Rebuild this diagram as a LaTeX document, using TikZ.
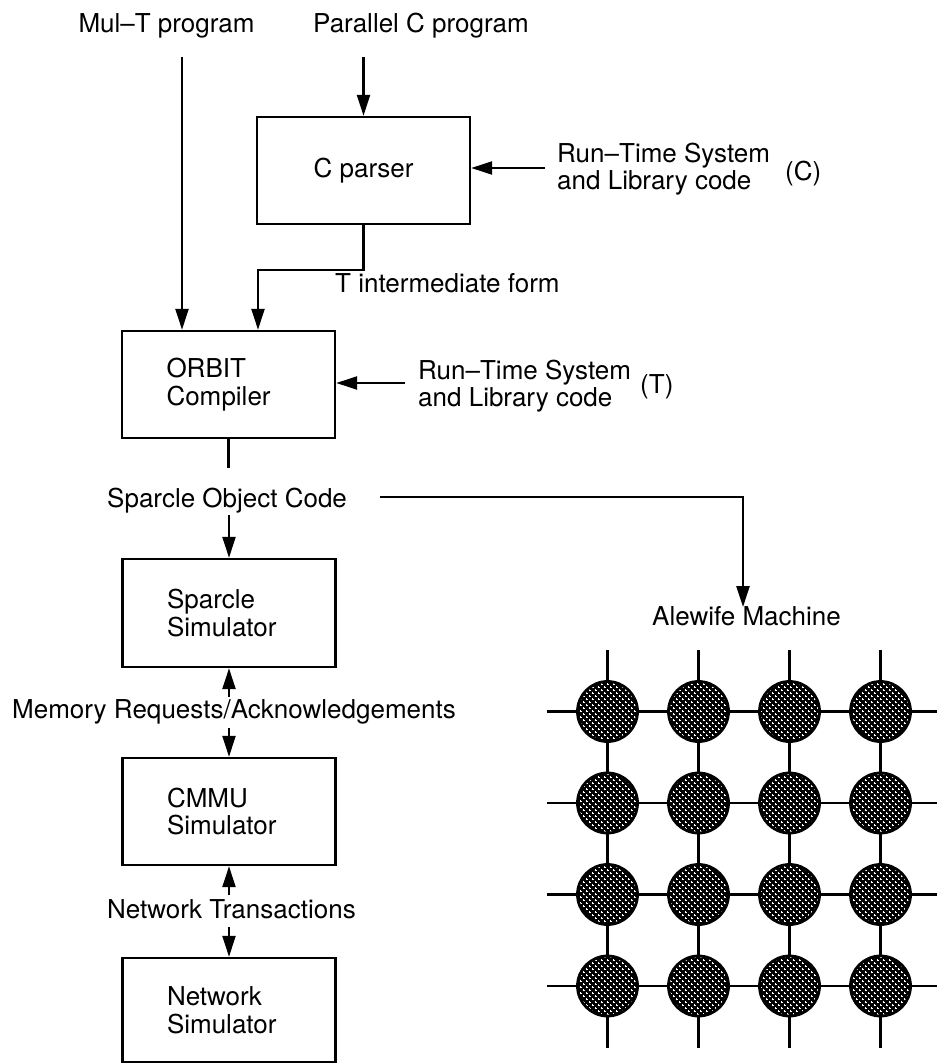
\documentclass[tikz,border=0pt]{standalone}
\usepackage{fontspec}
\setmainfont{TeX Gyre Heros}
\usetikzlibrary{arrows.meta,patterns}
\pgfdeclarepatternformonly{plusgrid}{\pgfqpoint{-1pt}{-1pt}}{\pgfqpoint{7pt}{7pt}}{\pgfqpoint{6pt}{6pt}}{%
  \pgfsetlinewidth{0.6pt}%
  \pgfpathmoveto{\pgfqpoint{0.5pt}{1.5pt}}\pgfpathlineto{\pgfqpoint{2.5pt}{1.5pt}}%
  \pgfpathmoveto{\pgfqpoint{1.5pt}{0.5pt}}\pgfpathlineto{\pgfqpoint{1.5pt}{2.5pt}}%
  \pgfpathmoveto{\pgfqpoint{3.5pt}{4.5pt}}\pgfpathlineto{\pgfqpoint{5.5pt}{4.5pt}}%
  \pgfpathmoveto{\pgfqpoint{4.5pt}{3.5pt}}\pgfpathlineto{\pgfqpoint{4.5pt}{5.5pt}}%
  \pgfusepath{stroke}}
\begin{document}
\begin{tikzpicture}[x=1pt,y=-1pt,
  every node/.style={font=\fontsize{26pt}{27.5pt}\selectfont, inner sep=0pt},
  lbl/.style={anchor=base west},
  box/.style={draw, line width=2.4pt, minimum width=213pt, minimum height=107pt},
  txtbox/.style={box, text width=124pt, inner xsep=44.5pt, align=left},
  arr/.style={line width=2.4pt, -{Triangle[length=21pt,width=13pt]}},
  plain/.style={line width=2.4pt},
  gline/.style={line width=2.6pt},
  cnode/.style={circle, draw, line width=2.8pt, minimum size=60pt, inner sep=0pt,
    preaction={fill=black}, pattern=plusgrid, pattern color=white}]
\useasboundingbox (0,0) rectangle (937,1064);

% top labels
\node[anchor=base] (mult) at (166.5,33) {Mul–T program};
\node[lbl] (parc) at (313,33) {Parallel C program};

% C parser
\node[box] (cparser) at (363.5,170.5) {C parser};
\coordinate (pc) at (363.5,57);
\draw[arr] (pc) -- (cparser.north);

\node[lbl] (rtc1) at (557,163) {Run–Time System};
\node[lbl] (rtc2) at (557,190) {and Library code};
\node[lbl] (rtcc) at (785,181) {(C)};
\coordinate (rc) at (545,168);
\draw[arr] (rc) -- (rc -| cparser.east);

% ORBIT
\node[txtbox, minimum height=107pt] (orbit) at (228.5,384.5) {ORBIT\\Compiler};
\coordinate (mt) at (182,57);
\draw[arr] (mt) -- (mt |- orbit.north);
\coordinate (tf) at (258,270);
\draw[arr] (cparser.south) -- (cparser.south |- tf) -- (tf) -- (tf |- orbit.north);
\node[lbl] (tform) at (335,293) {T intermediate form};

\node[lbl] (rtt1) at (418,379) {Run–Time System};
\node[lbl] (rtt2) at (418,406) {and Library code};
\node[lbl] (rttt) at (640,393) {(T)};
\coordinate (rt) at (405,383);
\draw[arr] (rt) -- (rt -| orbit.east);

% Sparcle object code
\node[lbl] (soc) at (107,507) {Sparcle Object Code};
\coordinate (o1) at (228.5,468);
\draw[plain] (orbit.south) -- (o1);

\node[txtbox, minimum height=108pt] (sparcle) at (229,613) {Sparcle\\Simulator};
\coordinate (o2) at (229,515);
\draw[arr] (o2) -- (sparcle.north);

\node[lbl] (alewife) at (652,625) {Alewife Machine};
\coordinate (h1) at (380,497);
\coordinate (h2) at (743,497);
\coordinate (h3) at (743,607);
\draw[arr] (h1) -- (h2) -- (h3);

% Memory requests
\node[lbl] (mem) at (12,718) {Memory Requests/Acknowledgements};
\node[txtbox, minimum height=107pt] (cmmu) at (229,811.5) {CMMU\\Simulator};
\coordinate (m1) at (229,697);
\coordinate (m2) at (229,728);
\draw[arr] (m1) -- (sparcle.south);
\draw[arr] (m2) -- (cmmu.north);

% Network
\node[lbl] (net) at (107,918) {Network Transactions};
\node[txtbox, minimum height=104pt] (network) at (229,1010) {Network\\Simulator};
\coordinate (n1) at (229,895);
\coordinate (n2) at (229,927);
\draw[arr] (n1) -- (cmmu.south);
\draw[arr] (n2) -- (network.north);

% Alewife machine grid
\foreach \i in {0,...,3} {
  \foreach \j in {0,...,3} {
    \node[cnode] (c\i\j) at ({607.5+91*\i},{711.5+91.5*\j}) {};
  }
}
\foreach \i in {0,...,3} {
  \foreach \j [count=\k] in {0,1,2} {
    \draw[gline] (c\i\j) -- (c\i\k);
    \draw[gline] (c\j\i) -- (c\k\i);
  }
  \coordinate (top\i) at ({607.5+91*\i},650);
  \coordinate (bot\i) at ({607.5+91*\i},1048);
  \coordinate (lft\i) at (547,{711.5+91.5*\i});
  \coordinate (rgt\i) at (937,{711.5+91.5*\i});
  \draw[gline] (c\i0) -- (top\i);
  \draw[gline] (c\i3) -- (bot\i);
  \draw[gline] (c0\i) -- (lft\i);
  \draw[gline] (c3\i) -- (rgt\i);
}
\end{tikzpicture}
\end{document}
